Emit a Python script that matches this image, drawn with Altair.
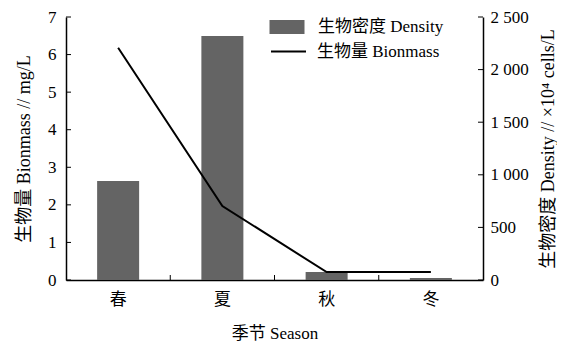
import altair as alt
import pandas as pd

seasons = ["春", "夏", "秋", "冬"]
density = [940, 2320, 75, 18]
biomass = [6.18, 1.97, 0.21, 0.21]
left_ticks = [0, 1, 2, 3, 4, 5, 6, 7]
right_ticks = [0, 500, 1000, 1500, 2000, 2500]
inner_x_ticks = ["夏", "秋", "冬"]

FONT = "Liberation Serif, Noto Sans CJK SC"
W, H = 417, 263

df = pd.DataFrame({
    "season": seasons,
    "density": density,
    "biomass": biomass,
    "sd": ["生物密度 Density"] * 4,
    "sb": ["生物量 Bionmass"] * 4,
})

xscale = alt.Scale(domain=seasons, paddingInner=0, paddingOuter=0)
yL = alt.Scale(domain=[0, 7], nice=False)
yR = alt.Scale(domain=[0, 2500], nice=False)

common = dict(labelFont=FONT, titleFont=FONT, domainColor="black", domainWidth=1.5,
              labelColor="black", titleColor="black", titleFontWeight="normal",
              tickSize=0, grid=False)

xaxis = alt.Axis(title="季节 Season", labelAngle=0, labelPadding=11,
                 titlePadding=18, labelFontSize=17, titleFontSize=17, **common)
raxis = alt.Axis(orient="right", title="生物密度 Density // ×10⁴ cells/L", values=right_ticks,
                 labelPadding=7, titlePadding=11, titleAngle=270, titleBaseline="top",
                 labelExpr="replace(format(datum.value, ','), ',', ' ')",
                 labelFontSize=17, titleFontSize=18, **common)
laxis = alt.Axis(orient="left", title="生物量 Bionmass // mg/L", values=left_ticks,
                 labelPadding=10, titlePadding=14, labelFontSize=17, titleFontSize=18,
                 **common)

bar = alt.Chart(df).mark_bar(size=42).encode(
    x=alt.X("season:N", scale=xscale, sort=seasons, axis=xaxis),
    y=alt.Y("density:Q", scale=yR, axis=raxis),
    color=alt.Color("sd:N", scale=alt.Scale(range=["#646464"]), legend=alt.Legend(
        title=None, orient="none", legendX=207, legendY=-4,
        symbolType="M-1.25,-0.5H1.25V0.5H-1.25Z", symbolSize=784,
        symbolStrokeWidth=0, labelFont=FONT, labelFontSize=17, labelColor="black",
        labelOffset=17)),
)

rticks = alt.Chart(pd.DataFrame({"v": right_ticks})).mark_rule(color="black").encode(
    y=alt.Y("v:Q", scale=yR, axis=raxis), x=alt.value(W - 5), x2=alt.value(W))

xticks = alt.Chart(pd.DataFrame({"season": inner_x_ticks})).mark_rule(color="black").encode(
    x=alt.X("season:N", scale=xscale, sort=seasons, bandPosition=0, axis=xaxis),
    y=alt.value(H - 5), y2=alt.value(H))

line = alt.Chart(df).mark_line(strokeWidth=2).encode(
    x=alt.X("season:N", scale=xscale, sort=seasons, axis=xaxis),
    y=alt.Y("biomass:Q", scale=yL, axis=laxis),
    stroke=alt.Stroke("sb:N", scale=alt.Scale(range=["black"]), legend=alt.Legend(
        title=None, orient="none", legendX=204, legendY=16,
        symbolType="stroke", symbolSize=1225, symbolStrokeWidth=2,
        labelFont=FONT, labelFontSize=17, labelColor="black", labelOffset=10)),
)

lticks = alt.Chart(pd.DataFrame({"v": left_ticks})).mark_rule(color="black").encode(
    y=alt.Y("v:Q", scale=yL, axis=laxis), x=alt.value(0), x2=alt.value(5))

right_group = alt.layer(bar, rticks, xticks)
left_group = alt.layer(line, lticks)

chart = alt.layer(right_group, left_group).resolve_scale(y="independent").properties(
    width=W, height=H, autosize=alt.AutoSizeParams(type="none"),
    padding={"left": 58, "top": 9, "right": 74, "bottom": 61},
    background="white",
).configure_view(stroke=None)

chart.save("out.html", embed_options={"renderer": "svg", "actions": False})
